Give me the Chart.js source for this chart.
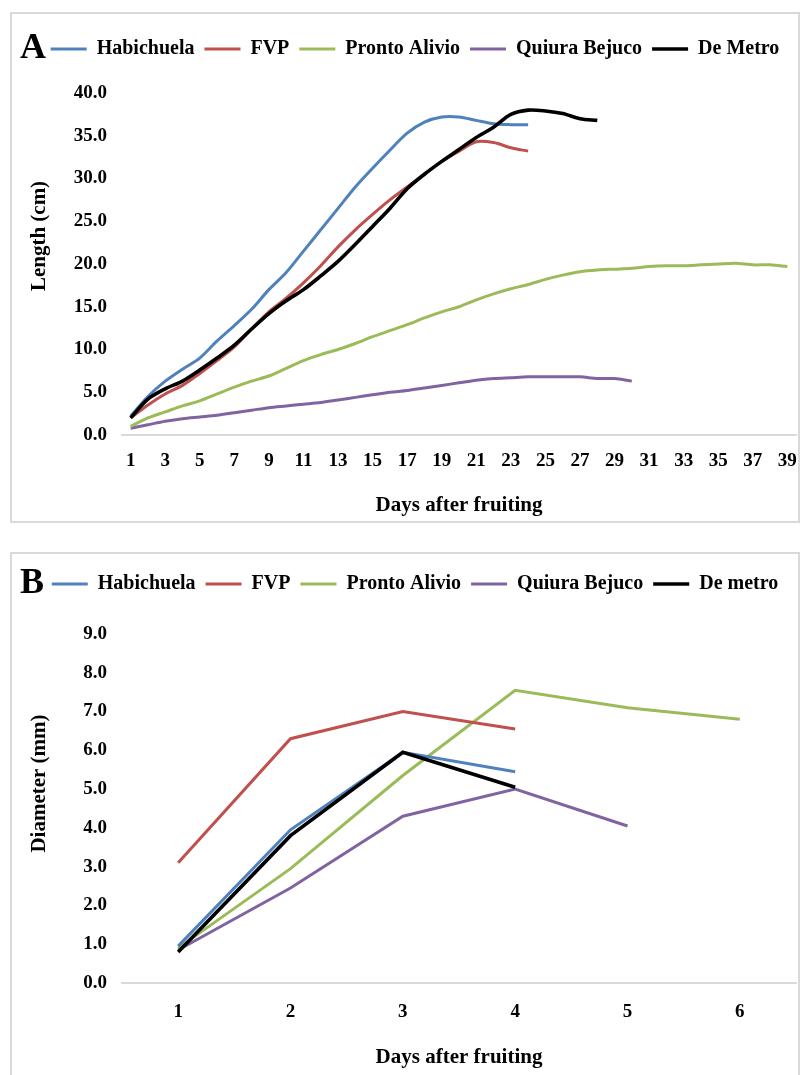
<!DOCTYPE html>
<html>
<head>
<meta charset="utf-8">
<script src="https://cdn.jsdelivr.net/npm/chart.js@4.4.1/dist/chart.umd.min.js"></script>
<style>
  html, body { margin: 0; padding: 0; background: #fff; width: 805px; height: 1075px; overflow: hidden; }
  .panel { position: absolute; left: 10px; width: 790px; border: 2px solid #d9d9d9; box-sizing: border-box; background: #fff; }
  #panelA { top: 12px; height: 511px; }
  #panelB { top: 552px; height: 533px; }
  .tag { position: absolute; left: 8px; font: bold 36px "Liberation Serif", "Times New Roman", serif; line-height: 1; color: #000; z-index: 2; }
  canvas { position: absolute; left: 0; top: 0; }
</style>
</head>
<body>
<div class="panel" id="panelA">
  <div class="tag" style="top:14px">A</div>
  <canvas id="chartA"></canvas>
</div>
<div class="panel" id="panelB">
  <div class="tag" style="top:9px">B</div>
  <canvas id="chartB"></canvas>
</div>
<script>
// ---- panel A: fruit length ----
const daysA = ["1","2","3","4","5","6","7","8","9","10","11","12","13","14","15","16","17","18","19","20",
  "21","22","23","24","25","26","27","28","29","30","31","32","33","34","35","36","37","38","39"];
const habichuelaA = [2.2, 4.5, 6.3, 7.7, 9.0, 11.0, 12.8, 14.7, 17.0, 19.0, 21.5, 24.0, 26.5, 29.0, 31.2,
  33.3, 35.3, 36.6, 37.2, 37.2, 36.8, 36.4, 36.3, 36.3];
const fvpA = [2.0, 3.5, 4.8, 5.8, 7.2, 8.7, 10.3, 12.4, 14.4, 16.0, 17.8, 19.8, 22.0, 24.0, 25.8,
  27.5, 29.0, 30.5, 32.0, 33.2, 34.3, 34.2, 33.6, 33.2];
const prontoA = [1.0, 2.0, 2.7, 3.4, 4.0, 4.8, 5.6, 6.3, 6.9, 7.8, 8.7, 9.4, 10.0, 10.7, 11.5, 12.2, 12.9,
  13.7, 14.4, 15.0, 15.8, 16.5, 17.1, 17.6, 18.2, 18.7, 19.1, 19.3, 19.4, 19.5, 19.7, 19.8, 19.8, 19.9,
  20.0, 20.1, 19.9, 19.9, 19.7];
const quiuraA = [0.8, 1.2, 1.6, 1.9, 2.1, 2.3, 2.6, 2.9, 3.2, 3.4, 3.6, 3.8, 4.1, 4.4, 4.7, 5.0, 5.2, 5.5,
  5.8, 6.1, 6.4, 6.6, 6.7, 6.8, 6.8, 6.8, 6.8, 6.6, 6.6, 6.3];
const demetroA = [2.0, 4.2, 5.4, 6.3, 7.6, 9.0, 10.5, 12.4, 14.2, 15.7, 17.0, 18.6, 20.3, 22.3, 24.4,
  26.5, 28.8, 30.5, 32.0, 33.4, 34.8, 36.0, 37.5, 38.0, 37.9, 37.6, 37.0, 36.8];

// ---- panel B: fruit diameter ----
const daysB = ["1", "2", "3", "4", "5", "6"];
const habichuelaB = [0.95, 3.95, 5.95, 5.45];
const fvpB = [3.1, 6.3, 7.0, 6.55];
const prontoB = [0.9, 2.95, 5.35, 7.55, 7.1, 6.8];
const quiuraB = [0.85, 2.45, 4.3, 5.0, 4.05];
const demetroB = [0.8, 3.8, 5.95, 5.05];

const namesA = ["Habichuela", "FVP", "Pronto Alivio", "Quiura Bejuco", "De Metro"];
const namesB = ["Habichuela", "FVP", "Pronto Alivio", "Quiura Bejuco", "De metro"];
const colors = ["#4F81BD", "#C0504D", "#9BBB59", "#8064A2", "#000000"];
const widths = [3, 3, 3, 3, 3.6];
const drawOrder = [1, 2, 3, 4, 0];

const serif = "'Liberation Serif', 'Times New Roman', serif";

// extra room under the legend, legend nudged right, and the y title drawn a bit above centre
const panelTweaks = {
  id: "panelTweaks",
  beforeInit(chart, args, opts) {
    const fit = chart.legend.fit;
    chart.legend.fit = function () {
      fit.call(this);
      this.height += opts.legendGap;
    };
  },
  afterLayout(chart, args, opts) {
    chart.legend.left += opts.legendShift;
    chart.legend.right += opts.legendShift;
  },
  afterDraw(chart, args, opts) {
    const ctx = chart.ctx;
    const area = chart.chartArea;
    ctx.save();
    ctx.translate(opts.titleX, (area.top + area.bottom) / 2 - opts.titleRaise);
    ctx.rotate(-Math.PI / 2);
    ctx.font = "bold 21px " + serif;
    ctx.fillStyle = "#000";
    ctx.textAlign = "center";
    ctx.textBaseline = "middle";
    ctx.fillText(opts.text, 0, 0);
    ctx.restore();
  }
};

function makeChart(id, labels, names, series, opts) {
  const ctx = document.getElementById(id).getContext("2d");
  return new Chart(ctx, {
    type: "line",
    data: {
      labels: labels,
      datasets: series.map((s, i) => ({
        label: names[i],
        data: s,
        borderColor: colors[i],
        backgroundColor: colors[i],
        borderWidth: widths[i],
        pointRadius: 0,
        tension: opts.tension,
        order: drawOrder[i]
      }))
    },
    plugins: [panelTweaks],
    options: {
      responsive: true,
      maintainAspectRatio: false,
      animation: false,
      layout: { padding: { top: opts.padTop, right: 2, bottom: opts.padBottom, left: 0 } },
      plugins: {
        tooltip: { enabled: false },
        panelTweaks: {
          legendGap: opts.legendGap,
          legendShift: 11,
          titleX: 28,
          titleRaise: opts.titleRaise,
          text: opts.yTitle
        },
        legend: {
          position: "top",
          labels: {
            usePointStyle: true,
            pointStyle: "line",
            pointStyleWidth: 36,
            padding: 10,
            color: "#000",
            font: { family: serif, size: 20, weight: "bold" },
            sort: (a, b) => a.datasetIndex - b.datasetIndex
          }
        }
      },
      scales: {
        x: {
          offset: true,
          grid: { display: false },
          border: { display: true, color: "#d9d9d9", width: 2 },
          ticks: {
            autoSkip: false,
            maxRotation: 0,
            padding: opts.xTickPad,
            color: "#000",
            font: { family: serif, size: 19, weight: "bold" },
            callback: (v, i) => (i % opts.every === 0 ? labels[i] : "")
          },
          title: {
            display: true,
            text: "Days after fruiting",
            color: "#000",
            font: { family: serif, size: 21, weight: "bold" },
            padding: { top: 0, bottom: 3 }
          },
          afterFit: (scale) => {
            scale.height = opts.xHeight;
            scale.paddingLeft = 0;
            scale.paddingRight = 0;
          }
        },
        y: {
          min: 0,
          max: opts.yMax,
          grid: { display: false },
          border: { display: false },
          ticks: {
            stepSize: opts.yStep,
            padding: 7,
            color: "#000",
            font: { family: serif, size: 19, weight: "bold" },
            callback: (v) => Number(v).toFixed(1)
          },
          title: { display: false },
          afterFit: (scale) => { scale.width = 110; }
        }
      }
    }
  });
}

makeChart("chartA", daysA, namesA, [habichuelaA, fvpA, prontoA, quiuraA, demetroA], {
  tension: 0.3, every: 2, yMax: 40, yStep: 5, yTitle: "Length (cm)",
  padTop: 15, padBottom: 0, xHeight: 86, xTickPad: 7, legendGap: 24, titleRaise: 28
});

makeChart("chartB", daysB, namesB, [habichuelaB, fvpB, prontoB, quiuraB, demetroB], {
  tension: 0, every: 1, yMax: 9, yStep: 1, yTitle: "Diameter (mm)",
  padTop: 10, padBottom: 10, xHeight: 90, xTickPad: 10, legendGap: 30, titleRaise: 25
});
</script>
</body>
</html>
